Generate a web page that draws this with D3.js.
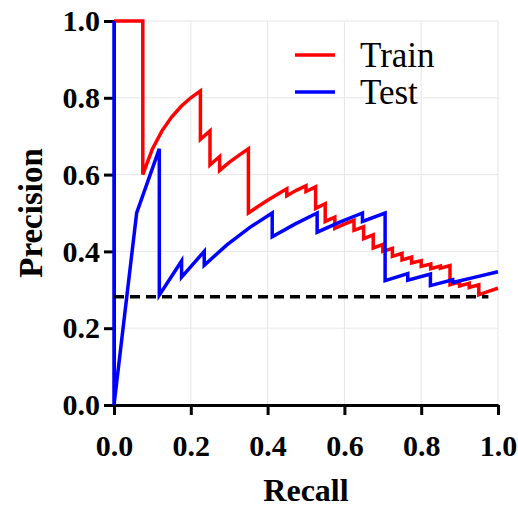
<script src="https://d3js.org/d3.v7.min.js"></script>
<html>
<head>
<style>
body { margin: 0; background: #fff; }
</style>
</head>
<body>
<script>
// PR curve: train vs test, with a dashed baseline

var trainRecall = [0, 0.025, 0.05, 0.075, 0.075,
  0.1, 0.125, 0.15, 0.175, 0.2, 0.225,
  0.225, 0.25, 0.25, 0.275, 0.275,
  0.3, 0.325, 0.35, 0.35,
  0.375, 0.4, 0.425, 0.45, 0.45,
  0.475, 0.5, 0.5, 0.525, 0.525,
  0.55, 0.55, 0.575, 0.575,
  0.6, 0.625, 0.625, 0.65, 0.65, 0.675, 0.675,
  0.7, 0.7, 0.725, 0.725, 0.75, 0.75, 0.775, 0.775,
  0.8, 0.8, 0.825, 0.825, 0.85, 0.85, 0.875, 0.875,
  0.9, 0.9, 0.925, 0.925, 0.95, 0.95, 0.975, 1.0];
var trainPrecision = [1, 1, 1, 1, 0.6,
  0.667, 0.714, 0.75, 0.778, 0.8, 0.818,
  0.692, 0.714, 0.625, 0.647, 0.611,
  0.632, 0.65, 0.667, 0.5,
  0.517, 0.533, 0.548, 0.563, 0.545,
  0.559, 0.571, 0.556, 0.568, 0.512,
  0.524, 0.478, 0.489, 0.46,
  0.471, 0.481, 0.455, 0.464, 0.433, 0.443, 0.409,
  0.418, 0.4, 0.408, 0.387, 0.395, 0.378, 0.385, 0.37,
  0.376, 0.361, 0.367, 0.355, 0.362, 0.356, 0.363, 0.313,
  0.32, 0.31, 0.317, 0.306, 0.313, 0.287, 0.296, 0.304];

var testRecall = [0, 0, 0.059, 0.118, 0.118, 0.176, 0.176, 0.235, 0.235,
  0.294, 0.353, 0.412, 0.412, 0.471, 0.529, 0.529, 0.588, 0.647, 0.647,
  0.706, 0.706, 0.765, 0.765, 0.824, 0.824, 0.882, 0.882, 0.941, 1.0];
var testPrecision = [1, 0, 0.5, 0.667, 0.286, 0.375, 0.333, 0.4, 0.364,
  0.417, 0.462, 0.5, 0.438, 0.471, 0.5, 0.45, 0.476, 0.5, 0.478,
  0.5, 0.324, 0.342, 0.325, 0.341, 0.311, 0.326, 0.319, 0.333, 0.347];

var baseline = 0.282;
var ticks = [0, 0.2, 0.4, 0.6, 0.8, 1.0];
var seriesNames = ["Train", "Test"];
var seriesColors = ["#ff0000", "#0000ff"];

var W = 518, H = 508;
var margin = {top: 21, left: 114, right: 20, bottom: 103};

var svg = d3.select("body").append("svg")
  .attr("width", W)
  .attr("height", H);

var xScale = d3.scaleLinear().domain([0, 1]).range([margin.left, 498]);
var yScale = d3.scaleLinear().domain([0, 1]).range([405, margin.top]);

// grid
svg.append("g").selectAll("line.gx")
  .data(ticks.slice(1))
  .enter().append("line")
  .attr("x1", function(d){return xScale(d);})
  .attr("x2", function(d){return xScale(d);})
  .attr("y1", yScale(0))
  .attr("y2", yScale(1))
  .attr("stroke", "#e6e6e6")
  .attr("stroke-width", 1);
svg.append("g").selectAll("line.gy")
  .data(ticks.slice(1))
  .enter().append("line")
  .attr("x1", xScale(0))
  .attr("x2", xScale(1))
  .attr("y1", function(d){return yScale(d);})
  .attr("y2", function(d){return yScale(d);})
  .attr("stroke", "#e6e6e6")
  .attr("stroke-width", 1);

// axes
var xAx = d3.axisBottom(xScale)
  .tickValues(ticks)
  .tickFormat(d3.format(".1f"))
  .tickSize(10)
  .tickSizeOuter(0)
  .tickPadding(20);
var yAx = d3.axisLeft(yScale)
  .tickValues(ticks)
  .tickFormat(d3.format(".1f"))
  .tickSize(10)
  .tickSizeOuter(0)
  .tickPadding(4);

var xGroup = svg.append("g")
  .attr("transform", "translate(0," + yScale(0) + ")")
  .call(xAx);
var yGroup = svg.append("g")
  .attr("transform", "translate(" + xScale(0) + ",0)")
  .call(yAx);

[xGroup, yGroup].forEach(function(g){
  g.select(".domain").attr("stroke", "#000").attr("stroke-width", 3);
  g.selectAll(".tick line").attr("stroke", "#000").attr("stroke-width", 3);
  g.selectAll(".tick text")
    .attr("fill", "#000")
    .style("font-family", "'Liberation Serif', serif")
    .style("font-weight", "bold")
    .style("font-size", "30px");
});

// curves
var line = d3.line()
  .x(function(d){return xScale(d[0]);})
  .y(function(d){return yScale(d[1]);});

var trainPts = d3.zip(trainRecall, trainPrecision);
var testPts = d3.zip(testRecall, testPrecision);

svg.append("path")
  .attr("d", line(trainPts))
  .attr("fill", "none")
  .attr("stroke", seriesColors[0])
  .attr("stroke-width", 3.5)
  .attr("stroke-linejoin", "miter");
svg.append("path")
  .attr("d", line(testPts))
  .attr("fill", "none")
  .attr("stroke", seriesColors[1])
  .attr("stroke-width", 3.5)
  .attr("stroke-linejoin", "miter");

// dashed baseline
svg.append("line")
  .attr("x1", xScale(0))
  .attr("x2", xScale(0.975))
  .attr("y1", yScale(baseline))
  .attr("y2", yScale(baseline))
  .attr("stroke", "#000")
  .attr("stroke-width", 3.5)
  .attr("stroke-dasharray", "10,6");

// axis titles
svg.append("text")
  .text("Recall")
  .attr("x", xScale(0.5))
  .attr("y", 501)
  .attr("text-anchor", "middle")
  .style("font-family", "'Liberation Serif', serif")
  .style("font-weight", "bold")
  .style("font-size", "32px");
svg.append("text")
  .text("Precision")
  .attr("transform", "translate(42," + yScale(0.5) + ") rotate(-90)")
  .attr("text-anchor", "middle")
  .style("font-family", "'Liberation Serif', serif")
  .style("font-weight", "bold")
  .style("font-size", "33px");

// legend
var legend = svg.append("g");
seriesNames.forEach(function(name, i){
  var ly = 55 + i * 37;
  legend.append("line")
    .attr("x1", 295).attr("x2", 335)
    .attr("y1", ly).attr("y2", ly)
    .attr("stroke", seriesColors[i])
    .attr("stroke-width", 3.5);
  legend.append("text")
    .text(name)
    .attr("x", 360)
    .attr("y", ly + 12)
    .style("font-family", "'Liberation Serif', serif")
    .style("font-size", "35px");
});
</script>
</body>
</html>
